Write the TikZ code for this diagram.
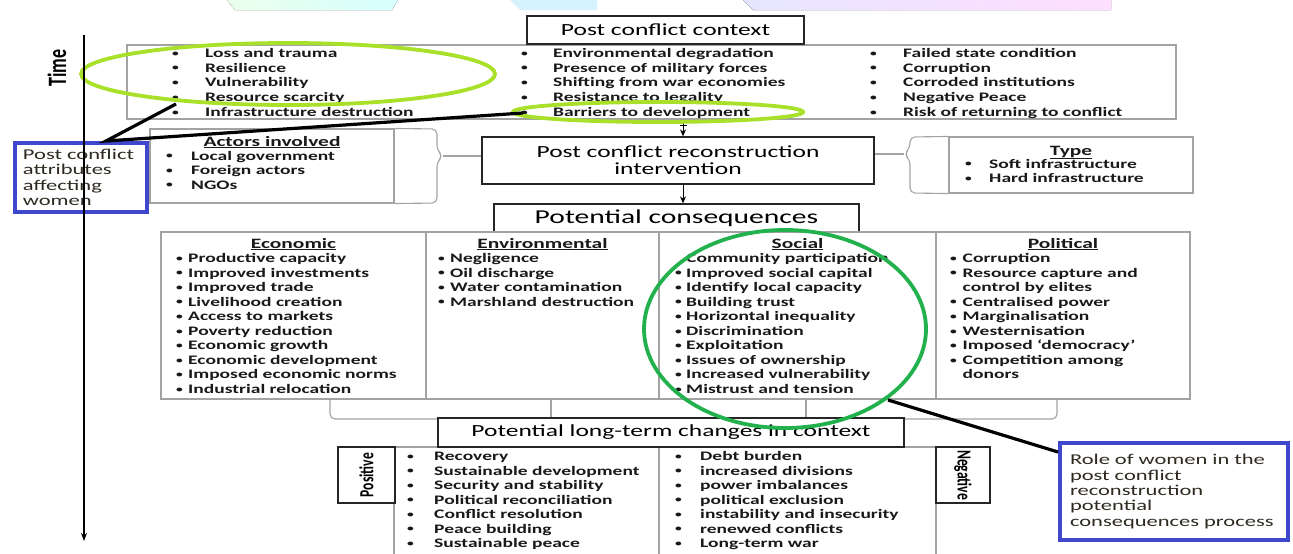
\documentclass[tikz,border=0pt]{standalone}
\usepackage{fontspec}
\setmainfont{Carlito}[FakeStretch=1.5]
\newfontfamily\rotfont{Carlito}[FakeStretch=0.68]
\usetikzlibrary{arrows.meta}

\definecolor{limegrn}{HTML}{A8E02A}
\definecolor{ringgrn}{HTML}{22B14C}
\definecolor{noteblue}{HTML}{3F47CC}
\definecolor{panelgrey}{HTML}{A3A3A3}
\definecolor{notetext}{HTML}{2E2A20}

\newcommand{\bul}[1]{\makebox[#1pt][l]{\raisebox{1.3pt}{\fontsize{9}{9}\selectfont\textbullet}}}
\newcommand{\nobul}[1]{\hspace*{#1pt}}

\tikzset{
  titlebox/.style={draw=black!85, line width=1.3pt, fill=white, inner sep=0pt, align=center, font=\fontsize{17}{17}\selectfont},
  panel/.style={draw=panelgrey, line width=1.1pt, inner sep=0pt},
  sidebox/.style={draw=black!85, line width=1.3pt, fill=white, inner sep=0pt},
  item/.style={anchor=base west, inner sep=0pt, text=black!90, font=\bfseries\fontsize{13}{14.7}\selectfont},
  colhead/.style={anchor=base, inner sep=0pt, text=black!90, font=\bfseries\fontsize{14.3}{16}\selectfont},
  sidelbl/.style={inner sep=0pt, font=\rotfont\bfseries\fontsize{20}{20}\selectfont},
  brc/.style={draw=panelgrey, line width=1.1pt, rounded corners=5pt},
  flow/.style={line width=1pt, -{Stealth[length=7pt,width=6pt]}},
  ring/.style={line width=3.8pt},
  pointer/.style={line width=3.2pt, black},
  notebox/.style={draw=noteblue, line width=3.6pt, align=left, inner xsep=8pt, inner ysep=2pt, text=notetext, font=\fontsize{15}{15.3}\selectfont},
}

\begin{document}
\begin{tikzpicture}[x=1pt, y=-1pt]
  \useasboundingbox (0,0) rectangle (1293,554);
  \clip (0,0) rectangle (1293,554);
  \fill[white] (0,0) rectangle (1293,554);

  % faint banner at the top
  \fill[left color=green!8, right color=cyan!16] (227,0) -- (398,0) -- (392,10) -- (235,10) -- cycle;
  \fill[cyan!16] (510,0) -- (597,0) -- (597,10) -- (520,10) -- cycle;
  \fill[left color=blue!10, right color=magenta!13] (743,0) -- (1111,0) -- (1111,10) -- (753,10) -- cycle;

  % time axis
  \node[sidelbl, font=\rotfont\bfseries\fontsize{26.5}{26.5}\selectfont, rotate=90] (timelbl) at (57,68) {Time};
  \coordinate (ttop) at (84,35);
  \coordinate (tbot) at (84,541);

  % post conflict context
  \node[panel, minimum width=1049, minimum height=74] (ctxbox) at (651.5,82) {};
  \node[titlebox, minimum width=277, minimum height=28] (ctxtitle) at (665.5,30) {Post conflict context};
  \foreach \t [count=\i] in {Loss and trauma,Resilience,Vulnerability,Resource scarcity,Infrastructure destruction}
    \node[item] (ctxa\i) at (172,{57.5+14.7*(\i-1)}) {\bul{33}\t};
  \foreach \t [count=\i] in {Environmental degradation,Presence of military forces,Shifting from war economies,Resistance to legality,Barriers to development}
    \node[item] (ctxb\i) at (521,{57.5+14.7*(\i-1)}) {\bul{32}\t};
  \foreach \t [count=\i] in {Failed state condition,Corruption,Corroded institutions,Negative Peace,Risk of returning to conflict}
    \node[item] (ctxc\i) at (870,{57.5+14.7*(\i-1)}) {\bul{33}\t};

  % actors, intervention, type
  \node[panel, minimum width=244, minimum height=74] (actors) at (272,166) {};
  \node[colhead] (acthead) at (272,146) {\underline{Actors involved}};
  \foreach \t [count=\i] in {Local government,Foreign actors,NGOs}
    \node[item] (act\i) at (166,{160+14.5*(\i-1)}) {\bul{25}\t};

  \node[titlebox, minimum width=392, minimum height=47] (recon) at (678,160.5) {Post conflict reconstruction\\intervention};

  \node[panel, minimum width=244, minimum height=56] (typebox) at (1071,165) {};
  \node[colhead] (typehead) at (1071,155) {\underline{Type}};
  \foreach \t [count=\i] in {Soft infrastructure,Hard infrastructure}
    \node[item] (typ\i) at (965,{168+14.7*(\i-1)}) {\bul{24}\t};

  \draw[brc] (actors.north east) -- (437,129) -- (437,150) -- (443,156) -- (437,162) -- (437,203) -- (actors.south east);
  \coordinate (lbrtip) at (443,156);
  \draw[brc, rounded corners=0pt] (lbrtip) -- (lbrtip -| recon.west);
  \draw[brc] (typebox.north west) -- (910,137) -- (910,148) -- (904,154) -- (910,160) -- (910,193) -- (typebox.south west);
  \coordinate (rbrtip) at (904,154);
  \draw[brc, rounded corners=0pt] (rbrtip) -- (rbrtip -| recon.east);

  % potential consequences
  \node[titlebox, minimum width=365, minimum height=28, font=\fontsize{19.7}{20}\selectfont] (conseq) at (676.5,218) {Potential consequences};
  \coordinate (flowx) at (683,0);
  \draw[flow] (ctxbox.south -| flowx) -- (recon.north -| flowx);
  \draw[line width=1pt] (ctxbox.south -| flowx) ++(-3.5,6) -- ++(7,0);
  \draw[flow] (recon.south -| flowx) -- (conseq.north -| flowx);

  \node[panel, minimum width=265, minimum height=167] (econ) at (293.5,315.5) {};
  \node[panel, minimum width=233, minimum height=167] (envi) at (542.5,315.5) {};
  \node[panel, minimum width=277, minimum height=167] (soci) at (797.5,315.5) {};
  \node[panel, minimum width=254, minimum height=167] (poli) at (1063,315.5) {};
  \node[colhead] (econhead) at (293.5,248) {\underline{Economic}};
  \node[colhead] (envihead) at (542.5,248) {\underline{Environmental}};
  \node[colhead] (socihead) at (797.5,248) {\underline{Social}};
  \node[colhead] (polihead) at (1063,248) {\underline{Political}};
  \foreach \t [count=\i] in {Productive capacity,Improved investments,Improved trade,Livelihood creation,Access to markets,Poverty reduction,Economic growth,Economic development,Imposed economic norms,Industrial relocation}
    \node[item] (eco\i) at (176,{262.5+14.56*(\i-1)}) {\bul{12}\t};
  \foreach \t [count=\i] in {Negligence,Oil discharge,Water contamination,Marshland destruction}
    \node[item] (env\i) at (438,{262.5+14.56*(\i-1)}) {\bul{12}\t};
  \foreach \t [count=\i] in {\nobul{11}Community participation,\bul{11}Improved social capital,\bul{11}Identify local capacity,\bul{11}Building trust,\bul{11}Horizontal inequality,\bul{11}Discrimination,\bul{11}Exploitation,\bul{11}Issues of ownership,\bul{11}Increased vulnerability,\bul{11}Mistrust and tension}
    \node[item] (soc\i) at (675,{262.5+14.56*(\i-1)}) {\t};
  \foreach \t [count=\i] in {\bul{12.5}Corruption,\bul{12.5}Resource capture and,\nobul{12.5}control by elites,\bul{12.5}Centralised power,\bul{12.5}Marginalisation,\bul{12.5}Westernisation,\bul{12.5}Imposed ‘democracy’,\bul{12.5}Competition among,\nobul{12.5}donors}
    \node[item] (pol\i) at (950,{262.5+14.56*(\i-1)}) {\t};

  % bracket under the consequences
  \draw[brc] (330,399) -- (330,419) -- (1057,419) -- (1057,399);
  \draw[brc] (551,399) -- (551,419);
  \draw[brc] (806,399) -- (806,419);

  % potential long-term changes
  \node[panel, minimum width=265, minimum height=133] (posl) at (526.5,513.5) {};
  \node[panel, minimum width=277, minimum height=133] (negl) at (797.5,513.5) {};
  \node[titlebox, minimum width=466, minimum height=29] (ltitle) at (671,432.5) {Potential long-term changes in context};
  \node[sidebox, minimum width=57, minimum height=56] (posbox) at (366.5,475) {};
  \node[sidelbl, rotate=90] (poslbl) at (posbox) {Positive};
  \node[sidebox, minimum width=54, minimum height=56] (negbox) at (963,475) {};
  \node[sidelbl, rotate=-90] (neglbl) at (negbox) {Negative};
  \foreach \t [count=\i] in {Recovery,Sustainable development,Security and stability,Political reconciliation,Conflict resolution,Peace building,Sustainable peace}
    \node[item] (pos\i) at (407,{460.5+14.5*(\i-1)}) {\bul{27}\t};
  \foreach \t [count=\i] in {Debt burden,increased divisions,power imbalances,political exclusion,instability and insecurity,renewed conflicts,Long-term war}
    \node[item] (neg\i) at (675,{460.5+14.5*(\i-1)}) {\bul{25}\t};

  % highlight rings
  \draw[ring, limegrn] (288,74) ellipse [x radius=207, y radius=31];
  \draw[ring, limegrn] (658,112) ellipse [x radius=145, y radius=10];
  \draw[ring, ringgrn] (785,329) ellipse [x radius=141, y radius=99];

  % notes for women
  \node[notebox, minimum width=132, minimum height=69, text width=116] (attrbox) at (81,177.5) {Post conflict\\attributes\\affecting\\women};
  \node[notebox, minimum width=228, minimum height=97, text width=208, inner xsep=10pt] (rolebox) at (1174,491.5) {Role of women in the\\post conflict\\reconstruction\\potential\\consequences process};
  \coordinate (attrtip) at (106,141);
  \coordinate (lossring) at (176,104);
  \coordinate (barring) at (523,113);
  \draw[pointer] (lossring) -- (attrtip) -- (barring);
  \coordinate (socring) at (888,400);
  \coordinate (roletip) at (1058,452);
  \draw[pointer] (socring) -- (roletip);

  \draw[line width=1.4pt, -{Stealth[length=8pt,width=6pt]}] (ttop) -- (tbot);
\end{tikzpicture}
\end{document}
